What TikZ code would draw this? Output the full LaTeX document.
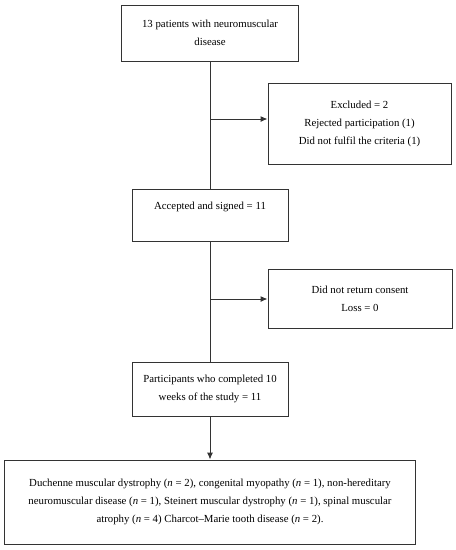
\documentclass[tikz,border=0pt]{standalone}
\usepackage{fontspec}
\setmainfont{Liberation Serif}
\usetikzlibrary{arrows.meta}

\tikzset{
	flowbox/.style={draw=black!80, line width=1pt, align=center, inner sep=0pt,
		font=\fontsize{10.8}{18}\selectfont},
	flowline/.style={draw=black!80, line width=1pt},
	flowarrow/.style={flowline, -{Latex[length=7pt,width=6pt]}}
}

\begin{document}
\begin{tikzpicture}[x=1pt,y=-1pt]
		\useasboundingbox (0,0) rectangle (456,550);
	
		\node[flowbox, minimum width=177pt, minimum height=56pt] (patients) at (210,33)
			{13 patients with neuromuscular\\disease};
		\node[flowbox, minimum width=183pt, minimum height=81pt] (excluded) at (359.5,123.5)
			{Excluded = 2\\Rejected participation (1)\\Did not fulfil the criteria (1)};
		\node[flowbox, minimum width=156pt, minimum height=52pt, text height=7pt, text depth=18pt] (accepted) at (210,215)
			{Accepted and signed = 11};
		\node[flowbox, minimum width=184pt, minimum height=59pt] (consent) at (360,298.5)
			{Did not return consent\\Loss = 0};
		\node[flowbox, minimum width=156pt, minimum height=54pt] (completed) at (210,389)
			{Participants who completed 10\\weeks of the study = 11};
		\node[flowbox, minimum width=411pt, minimum height=84pt] (diseases) at (210,502)
			{Duchenne muscular dystrophy (\textit{n} = 2), congenital myopathy (\textit{n} = 1), non-hereditary\\
			neuromuscular disease (\textit{n} = 1), Steinert muscular dystrophy (\textit{n} = 1), spinal muscular\\
			atrophy (\textit{n} = 4) Charcot--Marie tooth disease (\textit{n} = 2).};
	
		% main column
		\draw[flowline] (patients.south) -- (accepted.north);
		\draw[flowline] (accepted.south) -- (completed.north);
		\draw[flowarrow] (completed.south) -- (diseases.north);
	
		% side branches
		\coordinate (split1) at (210,119);
		\draw[flowarrow] (split1) -- (split1 -| excluded.west);
		\coordinate (split2) at (210,299);
		\draw[flowarrow] (split2) -- (split2 -| consent.west);
	
	\end{tikzpicture}
\end{document}
